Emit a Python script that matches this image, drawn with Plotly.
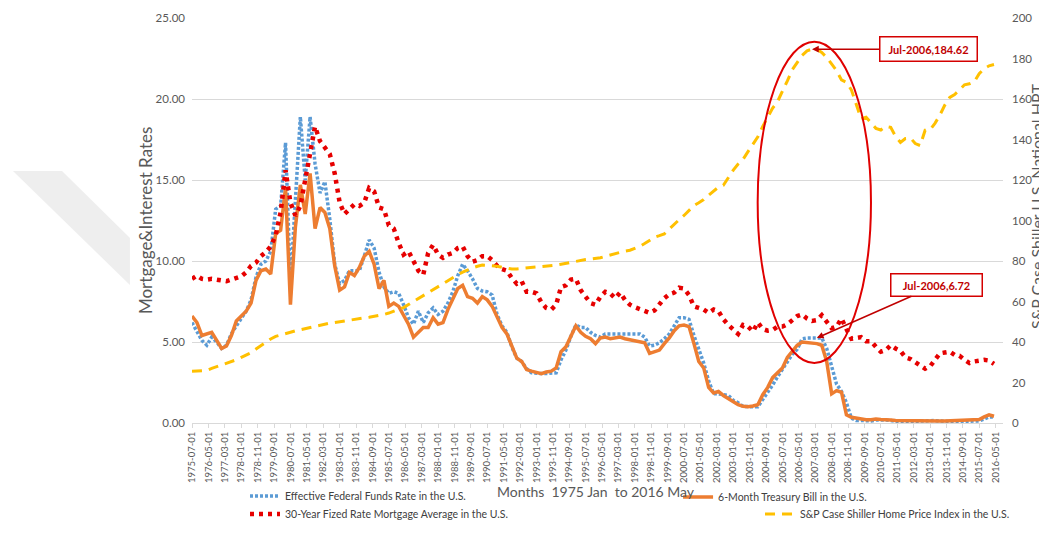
import pandas as pd
import plotly.graph_objects as go

# Quarterly readings (Jan/Apr/Jul/Oct) starting Jul 1975
fed_funds = [
    6.2, 5.6, 5.1, 4.8, 5.3, 5.0, 4.6, 4.8, 5.5, 6.0, 6.5, 6.9, 7.6, 9.0, 9.8, 10.0,
    10.6, 13.2, 13.4, 17.3, 8.6, 13.5, 18.9, 15.0, 18.9, 16.0, 14.2, 14.9, 12.6, 9.8,
    8.6, 8.8, 9.4, 9.4, 9.4, 10.3, 11.3, 10.8, 9.3, 8.4, 8.0, 8.1, 8.0, 7.3, 6.5, 6.1,
    6.9, 6.2, 6.8, 7.1, 6.7, 6.9, 7.4, 8.1, 9.1, 9.8, 9.4, 8.9, 8.3, 8.15, 8.1, 7.9,
    6.7, 6.0, 5.6, 4.7, 4.0, 3.8, 3.35, 3.1, 3.05, 3.05, 3.05, 3.1, 3.1, 3.9, 4.5, 5.35,
    6.05, 5.9, 5.9, 5.6, 5.4, 5.3, 5.5, 5.5, 5.5, 5.55, 5.5, 5.5, 5.55, 5.5, 5.3, 4.75,
    4.8, 4.95, 5.2, 5.5, 6.0, 6.5, 6.5, 6.4, 5.4, 4.5, 3.7, 2.6, 1.8, 1.8, 1.75, 1.7,
    1.4, 1.25, 1.03, 1.0, 1.0, 1.0, 1.45, 1.85, 2.35, 2.85, 3.3, 3.75, 4.25, 4.55, 5.2, 5.25,
    5.25, 5.25, 5.25, 4.6, 3.5, 2.4, 1.95, 1.25, 0.3, 0.15, 0.16, 0.15, 0.13, 0.18, 0.19, 0.18,
    0.15, 0.1, 0.08, 0.08, 0.09, 0.12, 0.15, 0.16, 0.16, 0.15, 0.12, 0.09, 0.09, 0.08, 0.09, 0.09,
    0.1, 0.12, 0.13, 0.24, 0.37, 0.37,
]
tbill_6m = [
    6.6, 6.2, 5.4, 5.5, 5.6, 5.1, 4.6, 4.75, 5.4, 6.3, 6.6, 6.9, 7.4, 8.8, 9.4, 9.5,
    9.2, 11.7, 11.9, 14.5, 7.3, 12.1, 14.7, 12.9, 15.4, 12.0, 13.3, 13.0, 12.0, 9.7,
    8.2, 8.4, 9.3, 9.1, 9.6, 10.3, 10.6, 9.8, 8.3, 8.8, 7.2, 7.4, 7.2, 6.6, 6.1, 5.3,
    5.6, 5.9, 5.9, 6.5, 6.1, 6.2, 7.0, 7.6, 8.3, 8.5, 7.8, 7.7, 7.4, 7.8, 7.6, 7.2,
    6.5, 5.9, 5.5, 4.8, 4.0, 3.8, 3.3, 3.2, 3.15, 3.05, 3.15, 3.2, 3.4, 4.4, 4.7, 5.35,
    6.0, 5.6, 5.35, 5.2, 4.9, 5.25, 5.3, 5.2, 5.25, 5.3, 5.2, 5.15, 5.1, 5.05, 4.95, 4.3,
    4.4, 4.5, 4.9, 5.25, 5.7, 6.0, 6.05, 5.95, 4.9, 3.8, 3.4, 2.2, 1.85, 1.95, 1.7, 1.5,
    1.3, 1.13, 1.03, 1.0, 1.05, 1.13, 1.75, 2.2, 2.8, 3.1, 3.4, 4.05, 4.45, 4.8, 5.0, 4.98,
    4.95, 4.9, 4.8, 3.8, 1.8, 2.0, 1.9, 0.5, 0.35, 0.3, 0.22, 0.2, 0.2, 0.25, 0.22, 0.18,
    0.18, 0.16, 0.15, 0.16, 0.15, 0.14, 0.14, 0.13, 0.12, 0.12, 0.12, 0.12, 0.13, 0.14, 0.15, 0.14,
    0.16, 0.18, 0.22, 0.38, 0.5, 0.42,
]
mortgage_30y = [
    8.9, 9.1, 8.9, 8.85, 8.9, 8.85, 8.8, 8.75, 8.85, 8.95, 9.05, 9.3, 9.7, 9.9, 10.3, 10.55,
    10.9, 11.6, 13.0, 15.6, 13.6, 12.8, 13.4, 15.0, 16.5, 18.3, 17.4, 17.0, 16.6, 15.4,
    13.6, 12.9, 13.2, 13.5, 13.4, 13.6, 14.5, 14.3, 13.3, 13.2, 12.2, 12.0, 11.1, 10.4, 10.6, 10.0,
    9.4, 9.15, 10.5, 11.0, 10.4, 10.2, 10.4, 10.5, 10.8, 10.9, 10.3, 9.95, 10.05, 10.3, 10.3, 10.05,
    9.7, 9.5, 9.4, 8.95, 8.6, 8.75, 8.1, 8.1, 8.0, 7.45, 7.1, 7.0, 7.3, 8.4, 8.5, 8.85,
    8.9, 8.2, 7.75, 7.4, 7.3, 7.8, 8.1, 8.0, 7.7, 8.05, 7.6, 7.3, 7.15, 7.05, 6.95, 6.8,
    6.95, 7.3, 7.7, 7.95, 8.05, 8.35, 8.3, 7.9, 7.2, 7.1, 7.0, 6.8, 7.0, 6.9, 6.4, 6.05,
    5.8, 5.5, 6.05, 5.95, 5.65, 6.2, 5.8, 5.7, 5.75, 5.95, 5.95, 6.1, 6.35, 6.6, 6.7, 6.45,
    6.3, 6.35, 6.65, 6.3, 5.85, 5.95, 6.45, 5.8, 5.2, 5.25, 5.3, 5.05, 5.05, 4.7, 4.4, 4.5,
    4.8, 4.6, 4.45, 4.05, 3.95, 3.75, 3.55, 3.35, 3.5, 3.9, 4.3, 4.35, 4.4, 4.2, 4.15, 3.9,
    3.7, 3.8, 3.85, 3.9, 3.85, 3.65,
]
case_shiller = [
    25.5, 25.6, 25.7, 26.0, 27.0, 27.8, 28.6, 29.5, 30.3, 31.2, 32.4, 33.6, 34.7, 36.5, 38.3, 39.9,
    41.5, 42.8, 43.6, 44.3, 44.8, 45.5, 46.1, 46.7, 47.3, 47.9, 48.4, 48.9, 49.3, 49.6,
    50.0, 50.5, 51.0, 51.4, 51.7, 51.9, 52.2, 52.6, 53.1, 53.6, 54.3, 55.1, 56.0, 57.0, 58.5, 60.0,
    61.5, 63.0, 64.5, 66.0, 67.2, 68.6, 70.1, 71.7, 73.2, 74.5, 75.6, 76.6, 77.4, 78.0, 77.9, 77.7,
    77.4, 76.9, 76.3, 76.0, 76.1, 76.3, 76.5, 76.7, 76.9, 77.1, 77.3, 77.6, 78.0, 78.4, 78.9, 79.3,
    79.8, 80.3, 80.7, 81.0, 81.2, 81.6, 82.3, 83.0, 83.8, 84.5, 84.9, 85.3, 86.2, 87.2, 88.6, 90.2,
    91.7, 92.5, 93.4, 95.8, 98.3, 100.4, 102.5, 105.0, 107.4, 108.8, 110.3, 112.5, 114.7, 116.5, 117.4, 121.4,
    124.9, 127.9, 130.2, 134.0, 138.0, 141.3, 146.5, 151.0, 155.5, 158.7, 163.5, 169.0, 174.5, 178.2, 181.5, 183.8,
    184.62, 184.5, 183.0, 180.5, 177.5, 174.0, 169.4, 168.2, 164.5, 157.5, 150.2, 151.0, 148.2, 145.5, 144.7, 146.5,
    146.0, 141.5, 138.6, 140.5, 140.8, 138.0, 137.0, 144.6, 144.8, 148.0, 152.0, 157.0, 160.8, 162.2, 164.5, 167.0,
    167.5, 168.5, 172.5, 175.0, 176.4, 177.0,
]

dates = pd.date_range("1975-07-01", periods=len(tbill_6m), freq="3MS")
tick_dates = pd.date_range("1975-07-01", "2016-05-01", freq="10MS")
tick_labels = [d.strftime("%Y-%m-%d") for d in tick_dates]

peak_idx = case_shiller.index(max(case_shiller))  # Jul-2006 peak
rate_idx = 127                                    # point the second callout arrow hits

FONT = "Lato"
GREY = "#595959"
CALLOUT = "#c00000"

fig = go.Figure()

fig.add_trace(go.Scatter(
    x=dates, y=fed_funds, mode="lines", name="Effective Federal Funds Rate in the U.S.",
    line=dict(color="#5b9bd5", width=3.5, dash="3px,2px"), legend="legend"))
fig.add_trace(go.Scatter(
    x=dates, y=tbill_6m, mode="lines", name="6-Month Treasury Bill in the U.S.",
    line=dict(color="#ed7d31", width=3.5), legend="legend2"))
fig.add_trace(go.Scatter(
    x=dates, y=mortgage_30y, mode="lines", name="30-Year Fized Rate Mortgage Average in the U.S.",
    line=dict(color="#e60000", width=4.5, dash="4px,5px"), legend="legend3"))
fig.add_trace(go.Scatter(
    x=dates, y=case_shiller, mode="lines", name="S&P Case Shiller Home Price Index in the U.S.",
    line=dict(color="#ffc000", width=3, dash="10px,7px"), yaxis="y2", legend="legend4"))

# Callouts
fig.add_annotation(
    x=dates[peak_idx], y=case_shiller[peak_idx], xref="x", yref="y2",
    text="<b>Jul-2006,184.62</b>", showarrow=True, ax=116, ay=0,
    arrowhead=2, arrowsize=0.9, arrowwidth=1.5, arrowcolor=CALLOUT,
    font=dict(family=FONT, size=11, color=CALLOUT),
    bgcolor="white", bordercolor="#d40000", borderwidth=1.5, borderpad=2,
    width=92, height=19)
fig.add_annotation(
    x=dates[rate_idx], y=fed_funds[rate_idx], xref="x", yref="y",
    text="<b>Jul-2006,6.72</b>", showarrow=True, ax=120, ay=-53,
    arrowhead=2, arrowsize=0.9, arrowwidth=1.5, arrowcolor=CALLOUT,
    font=dict(family=FONT, size=11, color=CALLOUT),
    bgcolor="white", bordercolor="#d40000", borderwidth=1.5, borderpad=2,
    width=86, height=17)

# Axis titles
fig.add_annotation(x=-0.058, y=0.501, xref="paper", yref="paper", showarrow=False,
                   xanchor="center", yanchor="middle", textangle=-90,
                   text="Mortgage&Interest Rates",
                   font=dict(family=FONT, size=17, color=GREY))
fig.add_annotation(x=1.0419, y=0.536, xref="paper", yref="paper", showarrow=False,
                   xanchor="center", yanchor="middle", textangle=-90,
                   text="S&P Case Shiller U.S. National HPT",
                   font=dict(family=FONT, size=16, color=GREY))
fig.add_annotation(x=0.4985, y=-0.168, xref="paper", yref="paper", showarrow=False,
                   xanchor="center", yanchor="middle",
                   text="Months  1975 Jan  to 2016 May",
                   font=dict(family=FONT, size=14, color=GREY))

# Background watermark band + red ellipse around the 2006-07 peak
fig.add_shape(type="path", xref="paper", yref="paper", layer="below",
              path="M -0.2207 0.6222 L -0.1603 0.6222 L -0.0765 0.4568 L -0.0765 0.3407 Z",
              fillcolor="#eeeeee", line=dict(width=0))
fig.add_shape(type="circle", xref="paper", yref="paper",
              x0=0.6975, x1=0.8372, y0=0.148, y1=0.9415,
              line=dict(color="#e00000", width=2))

legend_common = dict(font=dict(family=FONT, size=10.5, color="#404040"),
                     bgcolor="rgba(0,0,0,0)", itemwidth=30,
                     xref="container", yref="container",
                     xanchor="left", yanchor="middle")

# page has an 8px body margin, so the figure is 8px smaller than the window
fig.update_layout(
    width=1039, height=537,
    margin=dict(l=184, r=44, t=10, b=122, autoexpand=False),
    paper_bgcolor="white", plot_bgcolor="white",
    font=dict(family=FONT, color=GREY),
    showlegend=True,
    xaxis=dict(
        type="date", range=["1975-07-01", "2016-09-15"], automargin=False,
        tickmode="array", tickvals=tick_dates, ticktext=tick_labels,
        tickangle=-90, tickfont=dict(size=9.5, color=GREY),
        ticks="outside", ticklen=4, tickcolor="#d9d9d9",
        showline=True, linecolor="#d9d9d9", linewidth=1,
        showgrid=False, zeroline=False,
    ),
    yaxis=dict(
        range=[0, 25], dtick=5, tickformat=".2f", automargin=False,
        tickfont=dict(size=11.5, color=GREY), ticklabelstandoff=6,
        showgrid=True, gridcolor="#d9d9d9", gridwidth=1, zeroline=False,
    ),
    yaxis2=dict(
        range=[0, 200], dtick=20, overlaying="y", side="right", automargin=False,
        tickfont=dict(size=11.5, color=GREY), ticklabelstandoff=8,
        showgrid=False, zeroline=False,
    ),
    legend=dict(x=0.2281, y=0.0912, **legend_common),
    legend2=dict(x=0.6449, y=0.0894, **legend_common),
    legend3=dict(x=0.2281, y=0.0577, **legend_common),
    legend4=dict(x=0.7238, y=0.0577, **legend_common),
)

fig.write_html("out.html")
